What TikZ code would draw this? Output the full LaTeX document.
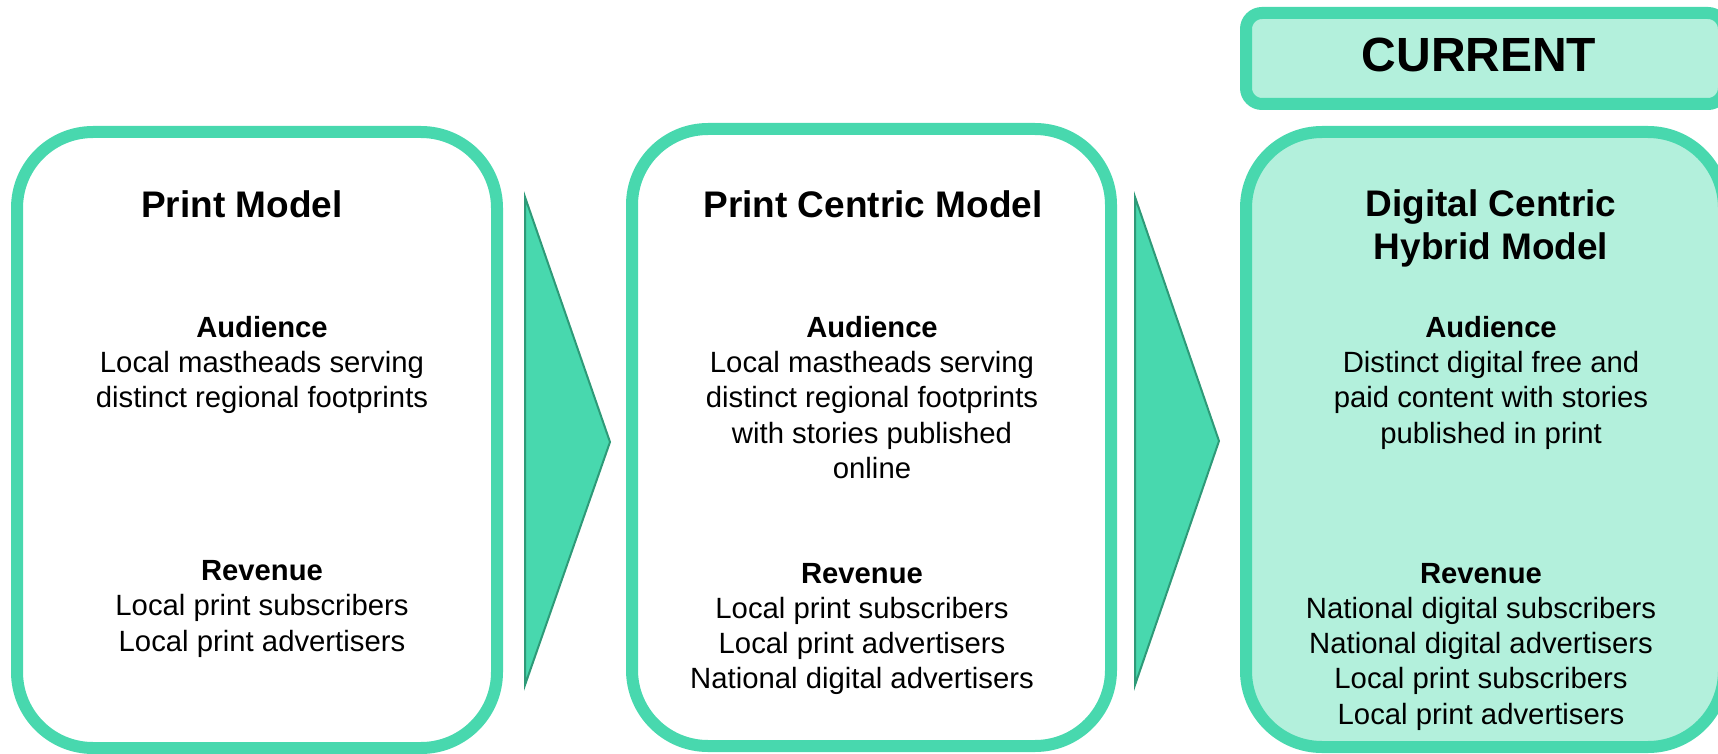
\documentclass[tikz,border=0pt]{standalone}
\usepackage{fontspec}
\setmainfont{Liberation Sans}
\definecolor{cardline}{RGB}{72,216,174}
\definecolor{cardfill}{RGB}{179,240,220}
\definecolor{arrowline}{RGB}{46,154,120}
\begin{document}
\begin{tikzpicture}[x=1pt,y=-1pt,
  card/.style={draw=cardline, line width=12pt, rounded corners=76pt, inner sep=0pt},
  tagbox/.style={draw=cardline, line width=12pt, rounded corners=16pt, fill=cardfill, inner sep=0pt},
  chevron/.style={fill=cardline, draw=arrowline, line width=2pt, line join=miter},
  title/.style={anchor=base, font=\fontsize{37}{44}\selectfont\bfseries},
  head/.style={anchor=base, font=\fontsize{29.2}{35}\selectfont\bfseries},
  body/.style={anchor=base, font=\fontsize{29.3}{35}\selectfont},
  tag/.style={anchor=base, font=\fontsize{48}{55}\selectfont\bfseries}]
\useasboundingbox (0,0) rectangle (1718,754);
% cards
\node[card, minimum width=480pt, minimum height=616pt] (b1) at (257,440) {};
\node[card, minimum width=479pt, minimum height=617pt] (b2) at (871.5,437.5) {};
\node[card, fill=cardfill, minimum width=478pt, minimum height=615pt] (b3) at (1485,439.5) {};
\node[tagbox, minimum width=478pt, minimum height=91pt] (cur) at (1485,58.5) {};
\node[tag] (curt) at (1479,72) {CURRENT};
% chevrons
\coordinate (a1t) at (525,197); \coordinate (a1p) at (610,442); \coordinate (a1b) at (525,685);
\coordinate (a2t) at (1135,197); \coordinate (a2p) at (1219,441); \coordinate (a2b) at (1135,685);
\draw[chevron] (a1t) -- (a1p) -- (a1b) -- cycle;
\draw[chevron] (a2t) -- (a2p) -- (a2b) -- cycle;
% card 1
\node[title] (t1) at (242,218) {Print Model};
\node[head] (h1a) at (262,337) {Audience};
\node[body] (l1a) at (262,372) {Local mastheads serving};
\node[body] (l1b) at (262,407) {distinct regional footprints};
\node[head] (h1r) at (262,580) {Revenue};
\node[body] (l1c) at (262,615) {Local print subscribers};
\node[body] (l1d) at (262,651) {Local print advertisers};
% card 2
\node[title] (t2) at (873,218) {Print Centric Model};
\node[head] (h2a) at (872,337) {Audience};
\node[body] (l2a) at (872,372) {Local mastheads serving};
\node[body] (l2b) at (872,407) {distinct regional footprints};
\node[body] (l2c) at (872,443) {with stories published};
\node[body] (l2d) at (872,478) {online};
\node[head] (h2r) at (862,583) {Revenue};
\node[body] (l2e) at (862,618) {Local print subscribers};
\node[body] (l2f) at (862,653) {Local print advertisers};
\node[body] (l2g) at (862,688) {National digital advertisers};
% card 3
\node[title] (t3a) at (1491,216) {Digital Centric};
\node[title] (t3b) at (1491,259) {Hybrid Model};
\node[head] (h3a) at (1491,337) {Audience};
\node[body] (l3a) at (1491,372) {Distinct digital free and};
\node[body] (l3b) at (1491,407) {paid content with stories};
\node[body] (l3c) at (1491,443) {published in print};
\node[head] (h3r) at (1481,583) {Revenue};
\node[body] (l3d) at (1481,618) {National digital subscribers};
\node[body] (l3e) at (1481,653) {National digital advertisers};
\node[body] (l3f) at (1481,688) {Local print subscribers};
\node[body] (l3g) at (1481,724) {Local print advertisers};
\end{tikzpicture}
\end{document}
